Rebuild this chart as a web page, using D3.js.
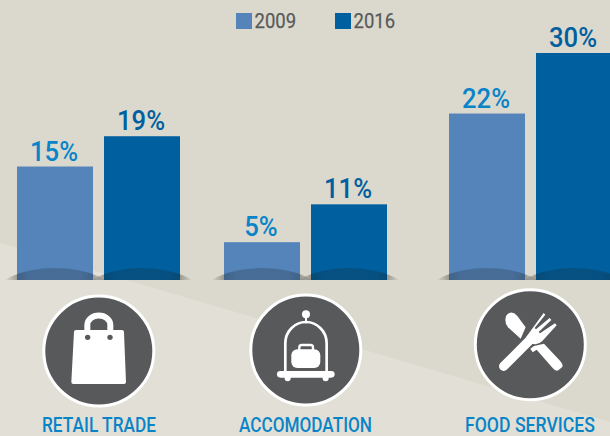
<!DOCTYPE html>
<html><head><meta charset="utf-8">
<script src="https://cdn.jsdelivr.net/npm/d3@7/dist/d3.min.js"></script>
<style>html,body{margin:0;padding:0;background:#DBD9CD;overflow:hidden}svg{display:block}text{font-family:Roboto,"Liberation Sans",Arial,sans-serif}</style>
</head><body><svg id="c" width="610" height="436"></svg>
<script>
const categories = ["RETAIL TRADE","ACCOMODATION","FOOD SERVICES"];
const years = ["2009","2016"];
// bar heights as drawn in the picture (the bar labelled 11% stands at about 10 on the common scale)
const values2009 = [15,5,22];
const values2016 = [19,10,30];
// printed labels
const labels2009 = ["15%","5%","22%"];
const labels2016 = ["19%","11%","30%"];

const svg = d3.select("#c");
const W = 610, H = 436, base = 280;
const y = d3.scaleLinear().domain([0,30]).range([base,53]);
const groupX = d3.scaleOrdinal(categories,[17,224,449]);
const barX = d3.scaleBand().domain(years).range([0,163]).paddingInner(0.1264);
const fill = d3.scaleOrdinal(years,["#5484BA","#00609F"]);
const labelFill = d3.scaleOrdinal(years,["#0A84C8","#00609F"]);

// background
svg.append("rect").attr("width",W).attr("height",H).attr("fill","#DBD9CD");
svg.append("path").attr("d","M0,243 L610,422 L610,436 L0,436 Z").attr("fill","#E2E0D6");

const defs = svg.append("defs");
const grad = defs.append("linearGradient").attr("id","sh").attr("x1",0).attr("x2",1).attr("y1",0).attr("y2",0);
[[.1,.03],[.19,.32],[.3,.22],[.7,.22],[.81,.32],[.9,.03]].forEach(([o,a])=>grad.append("stop").attr("offset",o).attr("stop-color","#1a1a1a").attr("stop-opacity",a));
defs.append("clipPath").attr("id","ab").append("rect").attr("width",W).attr("height",base);

function squeeze(sel,f){
  sel.each(function(){ this.setAttribute("textLength",this.getComputedTextLength()*f); this.setAttribute("lengthAdjust","spacingAndGlyphs"); });
}

const series = [values2009,values2016];
const labels = [labels2009,labels2016];
const flat = [];
categories.forEach((c,i)=>years.forEach((yr,j)=>flat.push({c,yr,v:series[j][i],t:labels[j][i]})));

// bars
svg.selectAll("rect.bar").data(flat).join("rect").attr("class","bar")
  .attr("x",d=>groupX(d.c)+barX(d.yr)).attr("width",barX.bandwidth())
  .attr("y",d=>y(d.v)).attr("height",d=>base-y(d.v)).attr("fill",d=>fill(d.yr));

// base shadows
svg.append("g").attr("clip-path","url(#ab)").selectAll("ellipse").data(flat).join("ellipse")
  .attr("cx",d=>groupX(d.c)+barX(d.yr)+barX.bandwidth()/2).attr("cy",297)
  .attr("rx",62).attr("ry",29)
  .attr("fill","url(#sh)");

// value labels
svg.selectAll("text.val").data(flat).join("text").attr("class","val")
  .attr("x",d=>groupX(d.c)+barX(d.yr)+barX.bandwidth()/2-1).attr("y",d=>y(d.v)-6)
  .attr("text-anchor","middle").attr("font-size",27).attr("font-weight",500).attr("fill",d=>labelFill(d.yr))
  .text(d=>d.t).call(squeeze,.95);

// legend
const legX = d3.scaleOrdinal(years,[236,335]);
const lg = svg.selectAll("g.lg").data(years).join("g").attr("class","lg").attr("transform",d=>`translate(${legX(d)},13)`);
lg.append("rect").attr("width",16).attr("height",16).attr("fill",d=>fill(d));
lg.append("text").attr("x",18.5).attr("y",15).attr("font-size",21).attr("fill","#58595B").attr("stroke","#58595B").attr("stroke-width",.25).text(d=>d).call(squeeze,.88);

// category labels
const labelX = d3.scaleOrdinal(categories,[99,305.5,530]);
const labelW = d3.scaleOrdinal(categories,[114,133,130]);
svg.selectAll("text.cat").data(categories).join("text").attr("class","cat")
  .attr("x",d=>labelX(d)).attr("y",432).attr("text-anchor","middle").attr("font-size",20).attr("font-weight",500).attr("fill","#0A84C8")
  .text(d=>d).attr("textLength",d=>labelW(d)).attr("lengthAdjust","spacingAndGlyphs");

// icons
const circ = d3.scaleOrdinal(categories,[[98.8,351],[305.8,350],[530.3,344.7]]);
svg.selectAll("circle.ic").data(categories).join("circle").attr("class","ic")
  .attr("cx",d=>circ(d)[0]).attr("cy",d=>circ(d)[1]).attr("r",55).attr("fill","#58595B").attr("stroke","#fff").attr("stroke-width",3);

const g2 = svg.append("g").attr("transform","translate(0,260) scale(.3333)");
g2.append("path").attr("d","M228,210 L366,210 Q372,210 372,216 L378,366 Q378,372 372,372 L220,372 Q214,372 214,366 L222,216 Q222,210 228,210Z").attr("fill","#fff");
g2.append("path").attr("d","M262,212 L262,195 A34,28 0 0 1 331,195 L331,212").attr("fill","none").attr("stroke","#fff").attr("stroke-width",18);
g2.selectAll("circle.h").data([263,330]).join("circle").attr("cx",d=>d).attr("cy",232).attr("r",8).attr("fill","#58595B");

g2.append("circle").attr("cx",918).attr("cy",163).attr("r",12).attr("fill","#fff");
g2.append("path").attr("d","M856,335 L856,250 A62,64 0 0 1 980,250 L980,335").attr("fill","none").attr("stroke","#fff").attr("stroke-width",8);
g2.append("line").attr("x1",918).attr("x2",918).attr("y1",170).attr("y2",190).attr("stroke","#fff").attr("stroke-width",6);
g2.append("line").attr("x1",841).attr("x2",994).attr("y1",343).attr("y2",343).attr("stroke","#fff").attr("stroke-width",20).attr("stroke-linecap","round");
g2.selectAll("circle.w").data([863,977]).join("circle").attr("cx",d=>d).attr("cy",355).attr("r",9).attr("fill","#fff");
g2.append("rect").attr("x",874).attr("y",268).attr("width",87).attr("height",56).attr("rx",18).attr("fill","#fff");
g2.append("path").attr("d","M898,272 L898,262 Q898,255 905,255 L932,255 Q939,255 939,262 L939,272").attr("fill","none").attr("stroke","#fff").attr("stroke-width",7);

const g3 = svg.append("g").attr("transform","translate(400,240) scale(.3333)");
// knife
g3.append("path").attr("d","M316,240 Q316,222 330,218 Q342,216 352,228 L377,262 L362,296 L324,262 Q316,252 316,240Z").attr("fill","#fff");
g3.append("path").attr("d","M391,326 L402,318 L432,311 L480,362 Q492,376 486,382 L476,390 Q468,396 458,384 L410,329 L398,337 Z").attr("fill","#fff");
// fork
g3.append("line").attr("x1",311).attr("y1",379).attr("x2",392).attr("y2",298).attr("stroke","#fff").attr("stroke-width",28).attr("stroke-linecap","round");
g3.append("path").attr("d","M378,292 L431,219 L436,224 L404,264 L408,268 L449,234 L454,240 L416,276 L420,280 L465,250 L470,256 L427,303 Q410,320 392,308 Z").attr("fill","#fff");
</script></body></html>
